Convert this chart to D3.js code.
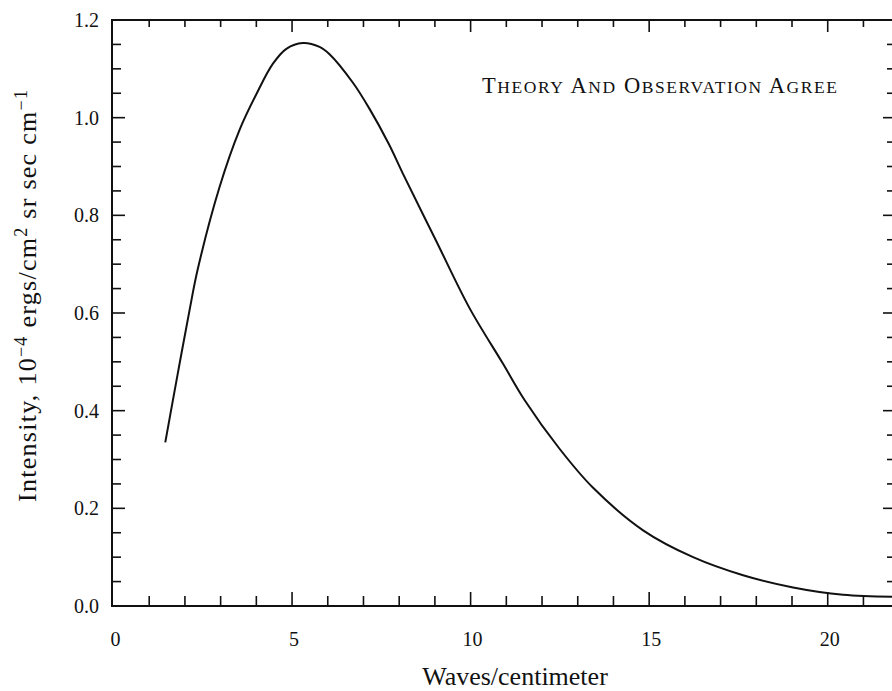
<!DOCTYPE html>
<html>
<head>
<meta charset="utf-8">
<script src="https://cdn.jsdelivr.net/npm/d3@7"></script>
<style>
  html, body { margin: 0; padding: 0; background: #fff; }
  svg { display: block; }
  text { font-family: "Liberation Serif", "Times New Roman", serif; fill: #111; }
</style>
</head>
<body>
<svg id="chart" width="892" height="691"></svg>
<script>
// Cosmic background spectrum: intensity versus wave number
const waveNumbers = [1.45, 1.66, 1.90, 2.13, 2.36, 2.97, 3.53, 4.00, 4.46, 4.84, 5.30, 5.77, 6.05, 6.70, 7.17, 7.71, 8.10, 9.04, 9.97, 10.90, 11.51, 12.49, 13.43, 14.83, 16.23, 17.63, 19.03, 20.43, 21.80];
const intensity   = [0.335, 0.420, 0.516, 0.606, 0.690, 0.858, 0.975, 1.048, 1.110, 1.141, 1.153, 1.145, 1.130, 1.072, 1.018, 0.946, 0.886, 0.747, 0.610, 0.497, 0.422, 0.322, 0.242, 0.155, 0.100, 0.063, 0.038, 0.023, 0.019];

const xTickLabels = [0, 5, 10, 15, 20];
const yTickLabels = [0.0, 0.2, 0.4, 0.6, 0.8, 1.0, 1.2];
const xTitle = "Waves/centimeter";
const annotation = "THEORY AND OBSERVATION AGREE";

(function () {
  const svg = d3.select("#chart");
  const plotLeft = 112, plotRight = 892, plotTop = 20, plotBottom = 606;

  const x = d3.scaleLinear().domain([0, 21.8]).range([113.5, 892]);
  const y = d3.scaleLinear().domain([0, 1.2]).range([plotBottom, plotTop]);

  const ink = "#111";

  // frame (left, top, bottom)
  svg.append("path")
    .attr("d", `M${plotRight},${plotTop}H${plotLeft}V${plotBottom}H${plotRight}`)
    .attr("fill", "none").attr("stroke", ink).attr("stroke-width", 2);

  // x ticks: bottom pointing up, top pointing down
  const xTicks = d3.range(1, 22);
  const isMajorX = v => v % 5 === 0;
  svg.append("g").selectAll("line").data(xTicks).join("line")
    .attr("x1", d => x(d)).attr("x2", d => x(d))
    .attr("y1", plotBottom).attr("y2", d => plotBottom - (isMajorX(d) ? 14 : 10))
    .attr("stroke", ink).attr("stroke-width", 1.6);
  svg.append("g").selectAll("line").data(xTicks).join("line")
    .attr("x1", d => x(d)).attr("x2", d => x(d))
    .attr("y1", plotTop).attr("y2", d => plotTop + (isMajorX(d) ? 12 : 7))
    .attr("stroke", ink).attr("stroke-width", 1.6);

  // y ticks every 0.05: left pointing right, right pointing left
  const yTicks = d3.range(1, 24).map(i => +(i * 0.05).toFixed(2));
  const isMajorY = v => Math.abs(v * 5 - Math.round(v * 5)) < 1e-6;
  svg.append("g").selectAll("line").data(yTicks).join("line")
    .attr("x1", plotLeft).attr("x2", d => plotLeft + (isMajorY(d) ? 13 : 9))
    .attr("y1", d => y(d)).attr("y2", d => y(d))
    .attr("stroke", ink).attr("stroke-width", 1.6);
  svg.append("g").selectAll("line").data(yTicks).join("line")
    .attr("x1", plotRight).attr("x2", d => plotRight - (isMajorY(d) ? 9 : 5))
    .attr("y1", d => y(d)).attr("y2", d => y(d))
    .attr("stroke", ink).attr("stroke-width", 1.6);

  // tick labels
  svg.append("g").selectAll("text").data(xTickLabels).join("text")
    .attr("x", d => x(d) + 2).attr("y", 646)
    .attr("text-anchor", "middle").attr("font-size", 20)
    .text(d => d);
  svg.append("g").selectAll("text").data(yTickLabels).join("text")
    .attr("x", 99).attr("y", d => y(d) + 7)
    .attr("text-anchor", "end").attr("font-size", 20)
    .text(d => d.toFixed(1));

  // axis titles
  svg.append("text")
    .attr("x", 515).attr("y", 685)
    .attr("text-anchor", "middle").attr("font-size", 26)
    .text(xTitle);

  const yt = svg.append("text")
    .attr("transform", "translate(36,296) rotate(-90)")
    .attr("text-anchor", "middle").attr("font-size", 26)
    .attr("textLength", 412).attr("lengthAdjust", "spacing");
  yt.append("tspan").text("Intensity, 10");
  yt.append("tspan").attr("dy", -9).attr("font-size", 18).text("\u22124");
  yt.append("tspan").attr("dy", 9).text(" ergs/cm");
  yt.append("tspan").attr("dy", -9).attr("font-size", 18).text("2");
  yt.append("tspan").attr("dy", 9).text(" sr sec cm");
  yt.append("tspan").attr("dy", -9).attr("font-size", 18).text("\u22121");

  // annotation in small capitals
  const ann = svg.append("text").attr("x", 482).attr("y", 93)
    .attr("textLength", 355).attr("lengthAdjust", "spacing");
  annotation.split(" ").forEach((word, i) => {
    ann.append("tspan").attr("font-size", 22.5).text((i ? " " : "") + word[0]);
    ann.append("tspan").attr("font-size", 17.5).text(word.slice(1));
  });

  // spectrum curve
  const pts = waveNumbers.map((v, i) => [v, intensity[i]]);
  svg.append("path")
    .datum(pts)
    .attr("fill", "none").attr("stroke", ink).attr("stroke-width", 2)
    .attr("d", d3.line().x(d => x(d[0])).y(d => y(d[1])).curve(d3.curveCatmullRom.alpha(0.5)));
})();
</script>
</body>
</html>
